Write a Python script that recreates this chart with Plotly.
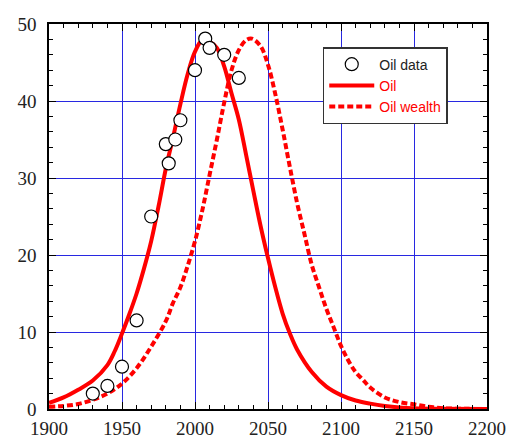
import plotly.graph_objects as go

# Oil data points (year, value)
data_years = [1930, 1940, 1950, 1960, 1970, 1980, 1982, 1986.5, 1990, 2000, 2007, 2010, 2020, 2030]
data_vals = [2.0, 3.0, 5.5, 11.5, 25.0, 34.4, 31.9, 35.0, 37.5, 44.0, 48.1, 46.9, 46.0, 43.0]

# Oil curve (solid)
oil_years = [1900, 1910, 1920, 1930, 1940, 1945, 1950, 1955, 1960, 1965, 1970, 1975, 1980, 1985,
             1990, 1995, 2000, 2005, 2010, 2015, 2020, 2025, 2030, 2035, 2040, 2045, 2050,
             2055, 2060, 2065, 2070, 2080, 2090, 2100, 2110, 2120, 2130, 2140, 2150, 2170, 2200]
oil_vals = [0.8, 1.5, 2.5, 3.7, 5.7, 7.5, 9.8, 12.3, 15.0, 18.2, 21.8, 26.3, 31.2, 35.3,
            39.6, 43.5, 46.4, 47.9, 47.7, 46.9, 44.5, 41.0, 37.6, 33.0, 28.3, 23.7, 19.6,
            15.8, 12.4, 9.8, 7.7, 4.8, 2.9, 1.8, 1.1, 0.7, 0.4, 0.2, 0.1, 0.03, 0.0]

# Oil wealth curve (dashed)
wealth_years = [1900, 1910, 1920, 1930, 1940, 1950, 1960, 1970, 1980, 1985, 1990, 1995, 2000,
                2005, 2010, 2015, 2020, 2025, 2030, 2035, 2039, 2045, 2050, 2055, 2060, 2065,
                2070, 2075, 2080, 2085, 2090, 2095, 2100, 2105, 2110, 2115, 2120, 2130, 2140,
                2150, 2160, 2170, 2185, 2200]
wealth_vals = [0.3, 0.4, 0.65, 1.2, 2.0, 3.3, 5.3, 8.1, 11.4, 13.8, 15.8, 18.6, 21.8,
               25.8, 30.4, 35.0, 39.8, 44.0, 46.6, 47.9, 48.1, 47.1, 44.7, 40.9, 36.3, 31.4,
               26.7, 22.7, 18.7, 15.8, 13.0, 10.6, 8.2, 6.3, 4.8, 3.8, 2.8, 1.5, 0.9,
               0.6, 0.3, 0.1, 0.03, 0.0]

x_ticks = [1900, 1950, 2000, 2050, 2100, 2150, 2200]
y_ticks = [0, 10, 20, 30, 40, 50]

fig = go.Figure()
fig.add_trace(go.Scatter(x=oil_years, y=oil_vals, mode="lines", line_shape="spline",
                         name="<span style='color:#ff0000'>Oil</span>", legendrank=2,
                         line=dict(color="#ff0000", width=4)))
fig.add_trace(go.Scatter(x=wealth_years, y=wealth_vals, mode="lines", line_shape="spline",
                         name="<span style='color:#ff0000'>Oil wealth</span>", legendrank=3,
                         line=dict(color="#ff0000", width=4, dash="6px,3px")))
fig.add_trace(go.Scatter(x=data_years, y=data_vals, mode="markers", name="Oil data",
                         legendrank=1,
                         marker=dict(symbol="circle", size=13, color="white",
                                     line=dict(color="black", width=1.2))))

axis_common = dict(showline=True, linecolor="black", linewidth=1.5, mirror="allticks",
                   ticks="inside", ticklen=7, tickwidth=1, tickcolor="black",
                   showgrid=True, gridcolor="rgb(40,40,225)", gridwidth=1.2,
                   zeroline=False, automargin=False,
                   tickfont=dict(family="Liberation Serif", size=19, color="#222"))

fig.update_xaxes(range=[1900, 2200], tickvals=x_ticks, ticktext=[str(v) for v in x_ticks],
                 minor=dict(dtick=10, tick0=1900, ticks="inside", ticklen=4, tickcolor="black", showgrid=False),
                 ticklabelstandoff=1,
                 **axis_common)
fig.update_yaxes(range=[0, 50], tickvals=y_ticks, ticktext=[str(v) for v in y_ticks],
                 minor=dict(dtick=2, tick0=0, ticks="inside", ticklen=4, tickcolor="black", showgrid=False),
                 ticklabelstandoff=7,
                 **axis_common)

fig.update_layout(
    width=514, height=439,
    margin=dict(l=49, r=27, t=24, b=30),
    paper_bgcolor="white", plot_bgcolor="white",
    legend=dict(x=0.625, y=0.94, xanchor="left", yanchor="top",
                bgcolor="white", bordercolor="#333", borderwidth=1.5,
                itemwidth=45,
                font=dict(family="Liberation Sans", size=14, color="#222")),
    showlegend=True,
)

fig.write_html("out.html")
